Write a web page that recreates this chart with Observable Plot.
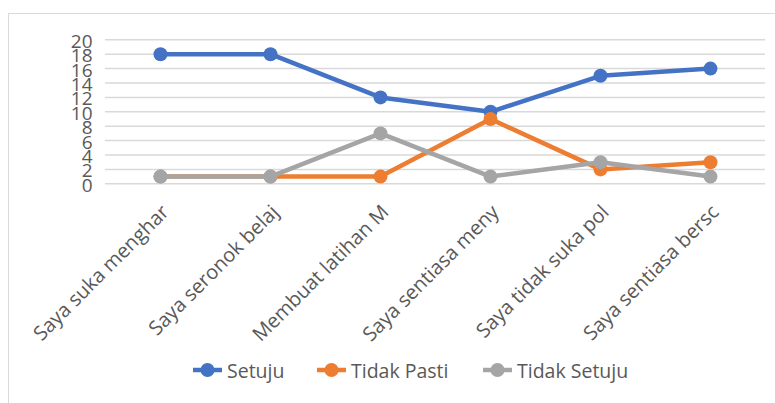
<!DOCTYPE html>
<html>
<head>
<meta charset="utf-8">
<script src="https://cdn.jsdelivr.net/npm/d3@7"></script>
<script src="https://cdn.jsdelivr.net/npm/@observablehq/plot@0.6"></script>
<style>
  html, body { margin: 0; padding: 0; background: #fff; }
  #wrap { position: relative; width: 775px; height: 403px; overflow: hidden; font-family: "Open Sans", sans-serif; }
  #border { position: absolute; left: 8px; top: 13px; width: 800px; height: 400px; border-left: 1.5px solid #d9d9d9; border-top: 1.5px solid #d9d9d9; }
  #chart { position: absolute; left: 0; top: 0; }
  #legend { position: absolute; top: 356px; left: 0; width: 775px; height: 28px; }
  .item { position: absolute; top: 0; display: flex; align-items: center; color: #595959; font-size: 19.5px; height: 28px; }
  .item svg { margin-right: 5px; }
</style>
</head>
<body>
<div id="wrap">
  <div id="border"></div>
  <div id="chart"></div>
  <div id="legend"></div>
</div>
<script>
const categories = [
  "Saya suka menghar",
  "Saya seronok belaj",
  "Membuat latihan M",
  "Saya sentiasa meny",
  "Saya tidak suka pol",
  "Saya sentiasa bersc"
];
const seriesNames = ["Setuju", "Tidak Pasti", "Tidak Setuju"];
const setuju = [18, 18, 12, 10, 15, 16];
const tidakPasti = [1, 1, 1, 9, 2, 3];
const tidakSetuju = [1, 1, 7, 1, 3, 1];
const yTicks = [0, 2, 4, 6, 8, 10, 12, 14, 16, 18, 20];
const colors = ["#4472C4", "#ED7D31", "#A5A5A5"];

const seriesValues = [setuju, tidakPasti, tidakSetuju];
const marks = [
  Plot.ruleY(yTicks, {stroke: "#d9d9d9", strokeWidth: 1.5}),
  Plot.axisY({ticks: yTicks, tickSize: 0, tickPadding: 13, fontSize: 19, fill: "#595959", dy: 2, label: null}),
  Plot.text(categories, {x: d => d, frameAnchor: "bottom", dy: 25, dx: 5, rotate: -45, textAnchor: "end", lineAnchor: "middle", fontSize: 20, fill: "#595959"})
];
seriesValues.forEach((vals, i) => {
  const rows = categories.map((c, j) => ({cat: c, value: vals[j]}));
  marks.push(Plot.line(rows, {x: "cat", y: "value", stroke: colors[i], strokeWidth: 4.5}));
  marks.push(Plot.dot(rows, {x: "cat", y: "value", fill: colors[i], r: 7}));
});

const plot = Plot.plot({
  width: 775,
  height: 403,
  marginLeft: 105,
  marginRight: 10,
  marginTop: 39.3,
  marginBottom: 219.7,
  style: {fontFamily: "Open Sans, sans-serif", background: "transparent", overflow: "visible"},
  x: {type: "point", domain: categories, padding: 0.5, axis: null},
  y: {domain: [0, 20], axis: null},
  marks
});
document.getElementById("chart").appendChild(plot);

// legend
const legend = document.getElementById("legend");
const lefts = [193, 317, 483];
seriesNames.forEach((name, i) => {
  const div = document.createElement("div");
  div.className = "item";
  div.style.left = lefts[i] + "px";
  div.innerHTML = `<svg width="29" height="16"><line x1="0" y1="8" x2="29" y2="8" stroke="${colors[i]}" stroke-width="4.5"/><circle cx="14.5" cy="8" r="7" fill="${colors[i]}"/></svg><span>${name}</span>`;
  legend.appendChild(div);
});
</script>
</body>
</html>
